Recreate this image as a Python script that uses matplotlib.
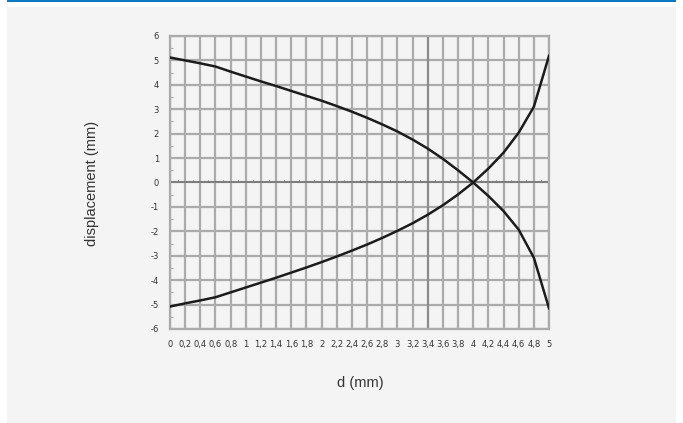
import numpy as np
import matplotlib
matplotlib.use("Agg")
import matplotlib.pyplot as plt
from matplotlib.patches import Rectangle

plt.rcParams["axes.unicode_minus"] = False

# data, one point per 0.2 mm
d = [0, 0.2, 0.4, 0.6, 0.8, 1.0, 1.2, 1.4, 1.6, 1.8, 2.0, 2.2, 2.4,
     2.6, 2.8, 3.0, 3.2, 3.4, 3.6, 3.8, 4.0, 4.2, 4.4, 4.6, 4.8, 5.0]
upper = [5.12, 5.00, 4.88, 4.75, 4.54, 4.34, 4.14, 3.95, 3.75, 3.55, 3.35, 3.13, 2.90,
         2.65, 2.38, 2.09, 1.76, 1.39, 0.97, 0.50, 0.0, -0.55, -1.17, -1.93, -3.08, -5.15]
lower = [-5.08, -4.95, -4.83, -4.70, -4.50, -4.30, -4.10, -3.90, -3.69, -3.48, -3.26, -3.03, -2.79,
         -2.54, -2.27, -1.98, -1.67, -1.32, -0.93, -0.49, 0.0, 0.57, 1.22, 2.04, 3.10, 5.19]
xlabels = [("%g" % v).replace(".", ",") for v in d]
yticks = [-6, -5, -4, -3, -2, -1, 0, 1, 2, 3, 4, 5, 6]

W, H = 683, 423
fig = plt.figure(figsize=(W/100, H/100), dpi=100)
fig.patch.set_facecolor("white")

# grey panel and blue top rule
fig.patches.append(Rectangle((7/W, 0), 669/W, 1 - 7/H, transform=fig.transFigure,
                             facecolor="#f4f4f4", edgecolor="none", zorder=-10))
fig.patches.append(Rectangle((7/W, 1 - 2/H), 669/W, 2/H, transform=fig.transFigure,
                             facecolor="#0a78c2", edgecolor="none", zorder=-10))

ax = fig.add_axes([170/W, 1 - 329/H, 379/W, 293/H])
ax.set_facecolor("none")
gridc = "#ababab"

for x in d:
    ax.axvline(x, color=gridc, lw=1.6, zorder=1)
for y in yticks:
    ax.axhline(y, color=gridc, lw=1.6, zorder=1)
ax.axvline(3.4, color="#8c8c8c", lw=1.5, zorder=1.5)
ax.axhline(0, color="#777777", lw=1.2, zorder=1.5)
# small ticks along the zero line
mids = [v + 0.1 for v in d[:-1]]
ax.vlines(mids, 0, 0.09, color="#777777", lw=0.8, zorder=1.5)

ax.plot(d, upper, color="#1c1c1c", lw=1.8, zorder=3)
ax.plot(d, lower, color="#1c1c1c", lw=1.8, zorder=3)

ax.set_xlim(0, 5)
ax.set_ylim(-6, 6)
ax.set_xticks(d)
ax.set_xticklabels(xlabels)
ax.set_yticks(yticks)
ax.set_yticks(np.arange(-5.5, 6, 1), minor=True)
ax.tick_params(axis="both", which="major", length=0, labelsize=6,
               labelcolor="#333333", pad=8)
ax.tick_params(axis="y", which="minor", direction="in", length=2.5,
               color=gridc, width=0.8)
for s in ax.spines.values():
    s.set_color(gridc)
    s.set_linewidth(1.6)

fig.text(92/W, 1 - 183/H, "displacement (mm)", rotation=90, ha="center", va="center",
         fontsize=10.5, color="#333333", family="Liberation Sans")
fig.text(360/W, 1 - 383/H, "d (mm)", ha="center", va="center",
         fontsize=10.5, color="#333333", family="Liberation Sans")

fig.savefig("out.png", dpi=100, facecolor=fig.get_facecolor())
